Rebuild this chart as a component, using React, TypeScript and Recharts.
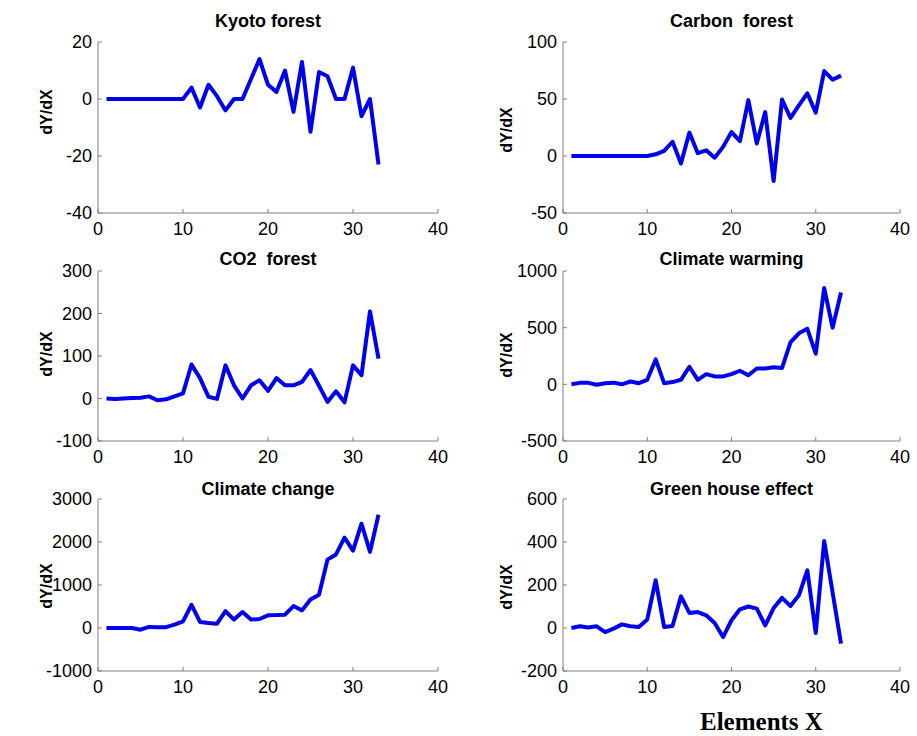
import { LineChart, Line, XAxis, YAxis } from 'recharts';

const X_VALUES = [1, 2, 3, 4, 5, 6, 7, 8, 9, 10, 11, 12, 13, 14, 15, 16, 17, 18, 19, 20, 21, 22, 23, 24, 25, 26, 27, 28, 29, 30, 31, 32, 33];
const X_TICKS = [0, 10, 20, 30, 40];

const KYOTO = [0, 0, 0, 0, 0, 0, 0, 0, 0, 0, 4, -3, 5, 1, -4, 0, 0, 7, 14, 5, 2.5, 10, -4.5, 13, -11.5, 9.5, 8, 0, 0, 11, -6, 0, -23];
const CARBON = [0, 0, 0, 0, 0, 0, 0, 0, 0, 0, 1.5, 4.5, 12.5, -6.5, 20.5, 2.5, 5, -1.5, 8, 21, 13, 49, 11, 38.5, -22, 49.5, 33.5, 44.5, 55, 38, 74.5, 67, 70.5];
const CO2 = [0, -1, 0, 1, 2, 5, -4, -2, 5, 12, 80, 48, 4, -1, 78, 31, 0, 31, 43, 18, 48, 31, 31, 39, 67, 30, -8, 17, -9, 78, 55, 205, 94];
const WARMING = [0, 13, 13, -3, 10, 15, 0, 25, 10, 40, 220, 10, 20, 40, 155, 40, 90, 70, 70, 90, 120, 80, 140, 140, 150, 145, 370, 450, 490, 270, 850, 500, 810];
const CHANGE = [0, 0, 0, 0, -40, 25, 15, 20, 80, 155, 540, 140, 115, 100, 390, 195, 370, 195, 210, 295, 300, 310, 510, 410, 665, 775, 1590, 1710, 2100, 1800, 2425, 1770, 2635];
const GREENHOUSE = [0, 8, 2, 8, -19, -3, 17, 8, 5, 40, 222, 5, 9, 147, 70, 74, 59, 23, -42, 36, 87, 100, 90, 12, 93, 140, 102, 152, 268, -23, 405, 165, -73];

const KYOTO_TICKS = [-40, -20, 0, 20];
const CARBON_TICKS = [-50, 0, 50, 100];
const CO2_TICKS = [-100, 0, 100, 200, 300];
const WARMING_TICKS = [-500, 0, 500, 1000];
const CHANGE_TICKS = [-1000, 0, 1000, 2000, 3000];
const GREENHOUSE_TICKS = [-200, 0, 200, 400, 600];

const AXIS = '#808080';
const BLUE = '#0000f0';
const FONT = '"Liberation Sans", Arial, sans-serif';

const panels = [
  { title: 'Kyoto forest', values: KYOTO, ticks: KYOTO_TICKS, left: 98, top: 42, width: 340, height: 171, titleY: 27, labelX: 52, labelY: 112 },
  { title: 'Carbon  forest', values: CARBON, ticks: CARBON_TICKS, left: 563, top: 42, width: 337, height: 171, titleY: 27, labelX: 512, labelY: 130 },
  { title: 'CO2  forest', values: CO2, ticks: CO2_TICKS, left: 98, top: 271, width: 340, height: 170, titleY: 265, labelX: 52, labelY: 354 },
  { title: 'Climate warming', values: WARMING, ticks: WARMING_TICKS, left: 563, top: 271, width: 337, height: 170, titleY: 265, labelX: 512, labelY: 355 },
  { title: 'Climate change', values: CHANGE, ticks: CHANGE_TICKS, left: 98, top: 499, width: 340, height: 172, titleY: 495, labelX: 52, labelY: 586 },
  { title: 'Green house effect', values: GREENHOUSE, ticks: GREENHOUSE_TICKS, left: 563, top: 499, width: 337, height: 172, titleY: 495, labelX: 512, labelY: 587 },
];

function Panel({ values, ticks, left, top, width, height }: any) {
  const data = X_VALUES.map((x, i) => ({ x, y: values[i] }));
  const domain = [ticks[0], ticks[ticks.length - 1]];
  const tickStyle = { fill: '#000', fontSize: 18, fontFamily: FONT };
  return (
    <div style={{ position: 'absolute', left: left - 80, top: top - 10 }}>
      <LineChart width={width + 90} height={height + 50} data={data} margin={{ top: 10, right: 10, left: 0, bottom: 0 }}>
        <XAxis
          dataKey="x" type="number" domain={[0, 40]} ticks={X_TICKS} height={40}
          axisLine={{ stroke: AXIS }} tickLine={{ stroke: AXIS }} tickSize={-4} tickMargin={13}
          tick={tickStyle} interval={0}
        />
        <XAxis
          xAxisId="top" orientation="top" dataKey="x" type="number" domain={[0, 40]} ticks={X_TICKS}
          height={0} axisLine={{ stroke: AXIS }} tickLine={{ stroke: AXIS }} tickSize={-4} tick={false}
        />
        <YAxis
          type="number" domain={domain} ticks={ticks} width={80} interval={0}
          axisLine={{ stroke: AXIS }} tickLine={{ stroke: AXIS }} tickSize={-4} tickMargin={10}
          tick={tickStyle}
        />
        <YAxis
          yAxisId="right" orientation="right" type="number" domain={domain} ticks={ticks} width={0}
          axisLine={{ stroke: AXIS }} tickLine={{ stroke: AXIS }} tickSize={-4} tick={false}
        />
        <Line
          dataKey="y" stroke={BLUE} strokeWidth={4} dot={false} strokeLinejoin="round"
          isAnimationActive={false}
        />
      </LineChart>
    </div>
  );
}

export default function App() {
  return (
    <div style={{ position: 'absolute', left: 0, top: 0, width: 917, height: 736, background: '#fff', overflow: 'hidden' }}>
      <svg width={917} height={736} style={{ position: 'absolute', left: 0, top: 0 }}>
        {panels.map(p => (
          <g key={p.title}>
            <text x={p.left + p.width / 2} y={p.titleY} textAnchor="middle" fontFamily={FONT} fontWeight="bold" fontSize={18} style={{ whiteSpace: 'pre' }}>
              {p.title}
            </text>
            <text
              x={p.labelX} y={p.labelY} textAnchor="middle" fontFamily={FONT} fontWeight="bold" fontSize={16}
              transform={`rotate(-90 ${p.labelX} ${p.labelY})`}
            >
              dY/dX
            </text>
          </g>
        ))}
        <text x={700} y={730} fontFamily='"Liberation Serif", "Times New Roman", serif' fontWeight="bold" fontSize={25}>
          Elements X
        </text>
      </svg>
      {panels.map(p => (
        <Panel key={p.title} {...p} />
      ))}
    </div>
  );
}
